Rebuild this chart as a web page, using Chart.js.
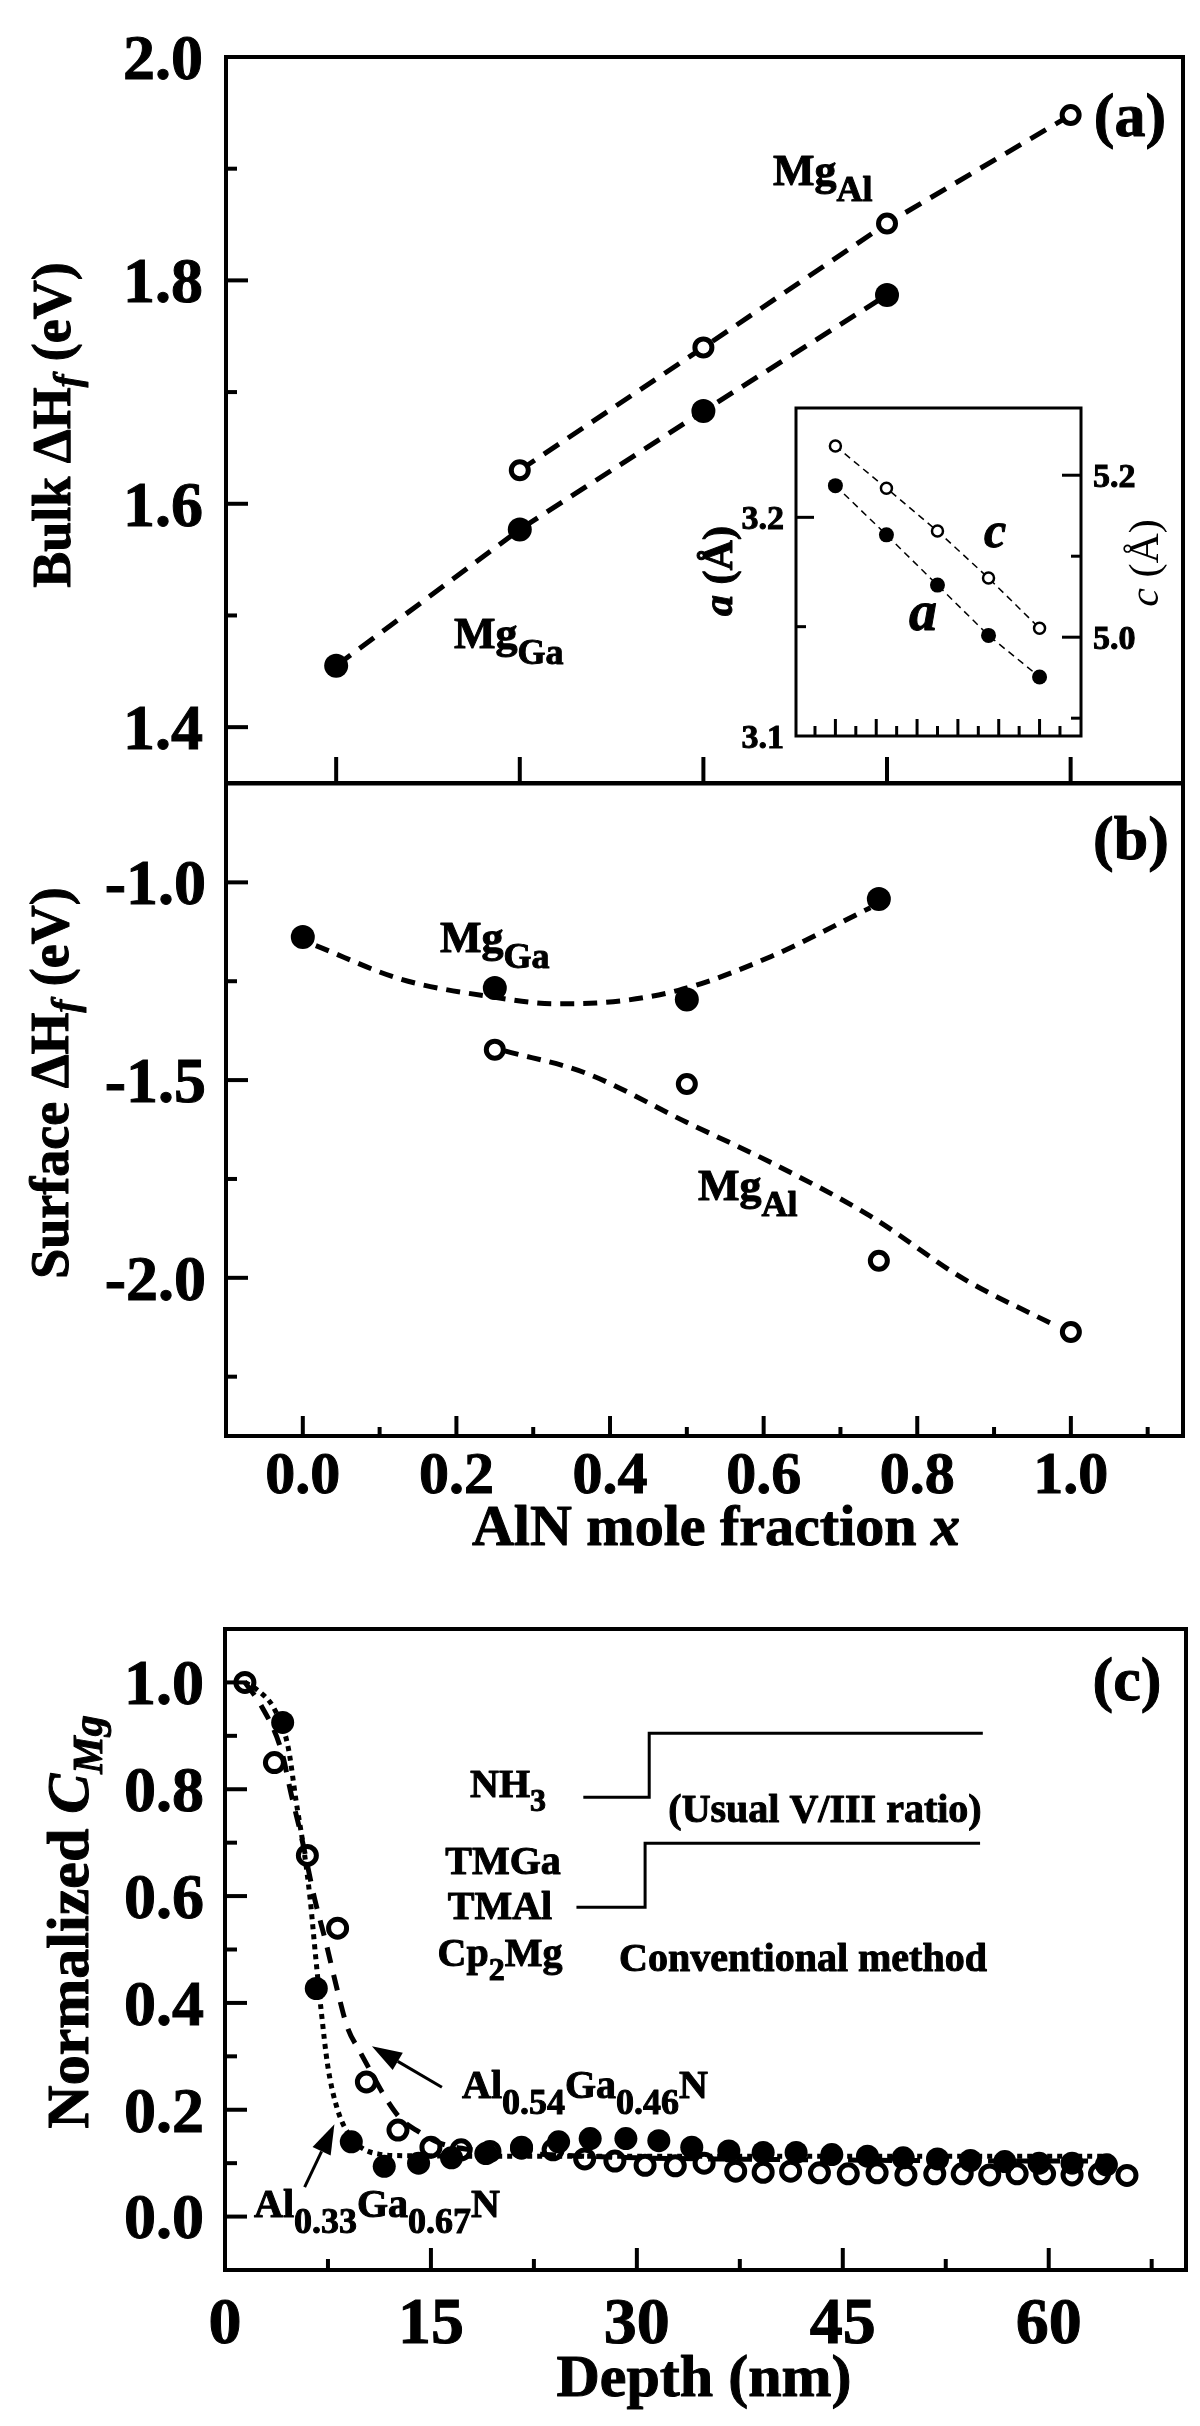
<!DOCTYPE html>
<html>
<head>
<meta charset="utf-8">
<script src="https://cdn.jsdelivr.net/npm/chart.js@4.4.0/dist/chart.umd.min.js"></script>
<style>
  body { margin: 0; background: #fff; }
  #wrap { position: relative; width: 1200px; height: 2426px; background: #fff; overflow: hidden; }
  canvas { position: absolute; }
</style>
</head>
<body>
<div id="wrap">
  <canvas id="chartA" width="1200" height="800" style="left:0;top:0"></canvas>
  <canvas id="chartB" width="1200" height="830" style="left:0;top:770px"></canvas>
  <canvas id="chartC" width="1200" height="826" style="left:0;top:1600px"></canvas>
  <canvas id="chartI" width="520" height="390" style="left:680px;top:390px"></canvas>
</div>
<script>
// ---- panel (a): bulk formation energy ----
const bulkXGa = [0, 0.25, 0.5, 0.75];
const bulkMgGa = [1.455, 1.577, 1.683, 1.787];
const bulkXAl = [0.25, 0.5, 0.75, 1.0];
const bulkMgAl = [1.630, 1.740, 1.851, 1.948];
const bulkYTicks = [1.4, 1.6, 1.8, 2.0];
const bulkYMinor = [1.5, 1.7, 1.9];
const bulkXTicks = [0, 0.25, 0.5, 0.75, 1.0];

// ---- inset: lattice constants ----
const insetX = [0, 0.25, 0.5, 0.75, 1.0];
const insetA = [3.2145, 3.192, 3.169, 3.146, 3.127];
const insetC = [5.236, 5.184, 5.131, 5.073, 5.011];

// ---- panel (b): surface formation energy ----
const surfXGa = [0, 0.25, 0.5, 0.75];
const surfMgGa = [-1.138, -1.267, -1.296, -1.042];
const surfXAl = [0.25, 0.5, 0.75, 1.0];
const surfMgAl = [-1.423, -1.51, -1.957, -2.137];
const fitGaX = [0.017, 0.128, 0.248, 0.328, 0.382, 0.489, 0.609, 0.739];
const fitGaY = [-1.160, -1.245, -1.290, -1.307, -1.305, -1.273, -1.188, -1.064];
const fitAlX = [0.263, 0.368, 0.499, 0.609, 0.739, 0.86, 0.98];
const fitAlY = [-1.426, -1.482, -1.606, -1.708, -1.844, -2.002, -2.121];
const fracTicks = [0, 0.2, 0.4, 0.6, 0.8, 1.0];
const fracMinor = [0.1, 0.3, 0.5, 0.7, 0.9, 1.1];
const surfYTicks = [-1.0, -1.5, -2.0];
const surfYMinor = [-1.25, -1.75, -2.25];

// ---- panel (c): Mg depth profiles ----
const depth054 = [1.45, 3.6, 6.0, 8.2, 10.3, 12.6, 15.0, 17.2, 19.3, 21.6, 23.9, 26.2, 28.4, 30.6, 32.8, 34.9,
  37.2, 39.2, 41.2, 43.3, 45.4, 47.5, 49.6, 51.7, 53.7, 55.7, 57.7, 59.7, 61.7, 63.7, 65.7];
const conc054 = [1.0, 0.85, 0.676, 0.54, 0.252, 0.162, 0.13, 0.125, 0.122, 0.13, 0.125, 0.108, 0.104, 0.096, 0.095, 0.1,
  0.085, 0.083, 0.085, 0.082, 0.08, 0.082, 0.078, 0.08, 0.08, 0.078, 0.08, 0.08, 0.078, 0.08, 0.077];
const depth033 = [4.2, 6.65, 9.2, 11.6, 14.1, 16.5, 19.0, 21.6, 24.3, 26.6, 29.2, 31.6, 34.0, 36.7, 39.2, 41.6,
  44.2, 46.8, 49.4, 51.9, 54.3, 56.8, 59.3, 61.7, 64.2];
const conc033 = [0.925, 0.427, 0.14, 0.094, 0.1, 0.11, 0.118, 0.128, 0.14, 0.146, 0.146, 0.142, 0.13, 0.123, 0.12, 0.12,
  0.116, 0.113, 0.11, 0.108, 0.105, 0.103, 0.1, 0.1, 0.097];
const fit033X = [1.45, 2.3, 3.62, 4.59, 5.19, 5.79, 6.2, 6.59, 7.0, 7.48, 8.2, 9.29, 11.2, 13.2, 20, 30, 40, 50, 60, 64.5];
const fit033Y = [1.0, 0.987, 0.949, 0.88, 0.776, 0.679, 0.595, 0.49, 0.387, 0.283, 0.2, 0.145, 0.117, 0.114, 0.113, 0.113, 0.113, 0.113, 0.113, 0.113];
const fit054X = [1.45, 2.65, 4.1, 4.83, 5.55, 6.52, 7.36, 8.2, 8.93, 9.78, 10.5, 11.7, 12.8, 14.1, 15.6, 18, 22, 30, 40, 50, 60, 64.5];
const fit054Y = [1.0, 0.956, 0.873, 0.79, 0.713, 0.596, 0.512, 0.422, 0.353, 0.311, 0.277, 0.222, 0.183, 0.159, 0.138, 0.125, 0.118, 0.11, 0.107, 0.105, 0.104, 0.104];
const nh3StepX = [26.1, 30.9, 30.9, 55.2];
const nh3StepY = [0.785, 0.785, 0.905, 0.905];
const tmgaStepX = [25.6, 30.6, 30.6, 55.0];
const tmgaStepY = [0.579, 0.579, 0.699, 0.699];
const depthTicks = [0, 15, 30, 45, 60];
const depthMinor = [7.5, 22.5, 37.5, 52.5, 67.5];
const concTicks = [0, 0.2, 0.4, 0.6, 0.8, 1.0];
const concMinor = [0.1, 0.3, 0.5, 0.7, 0.9];

const FONT = '"Liberation Serif", "Times New Roman", serif';
function f(size, style) { return (style || 'bold') + ' ' + size + 'px ' + FONT; }
const pts = (xs, ys) => xs.map((x, i) => ({ x: x, y: ys[i] }));

function markers(data, filled, r, bw, openFill) {
  return {
    data: data, showLine: false, pointRadius: r, pointHoverRadius: r,
    pointBackgroundColor: filled ? '#000' : (openFill || '#fff'),
    pointBorderColor: '#000', pointBorderWidth: filled ? 0 : bw, clip: false
  };
}
function curve(data, dash, width, smooth) {
  return {
    data: data, showLine: true, pointRadius: 0, pointHoverRadius: 0, borderColor: '#000',
    borderWidth: width, borderDash: dash, fill: false, clip: false,
    cubicInterpolationMode: smooth ? 'monotone' : 'default', tension: 0
  };
}
function baseOptions(pad, xr, yr, extra) {
  const scales = {
    x: { type: 'linear', min: xr[0], max: xr[1], display: false },
    y: { type: 'linear', min: yr[0], max: yr[1], display: false }
  };
  Object.assign(scales, extra || {});
  return {
    responsive: false, animation: false, devicePixelRatio: 1, events: [],
    layout: { padding: pad },
    plugins: { legend: { display: false }, tooltip: { enabled: false } },
    scales: scales
  };
}

// text with sub-parts; x,y in page pixels
function drawRich(ctx, parts, x, y, align, rot) {
  ctx.save();
  ctx.translate(x, y);
  if (rot) ctx.rotate(rot);
  ctx.textBaseline = 'alphabetic';
  ctx.textAlign = 'left';
  ctx.lineWidth = 1;
  ctx.lineJoin = 'round';
  let w = 0;
  parts.forEach(p => { ctx.font = p.font; w += ctx.measureText(p.t).width; });
  let cx = align === 'center' ? -w / 2 : (align === 'right' ? -w : 0);
  parts.forEach(p => {
    ctx.font = p.font;
    ctx.fillText(p.t, cx, p.dy || 0);
    if (p.font.indexOf('bold') === 0) ctx.strokeText(p.t, cx, p.dy || 0);
    cx += ctx.measureText(p.t).width;
  });
  ctx.restore();
}

function panelPlugin(cfg) {
  return {
    id: 'panel',
    afterDraw(chart) {
      const ctx = chart.ctx, a = chart.chartArea;
      ctx.save();
      ctx.strokeStyle = '#000';
      ctx.fillStyle = '#000';
      ctx.setLineDash([]);
      ctx.lineWidth = cfg.frame;
      ctx.strokeRect(a.left, a.top, a.right - a.left, a.bottom - a.top);
      ctx.lineWidth = cfg.tickWidth;
      cfg.ticks.forEach(t => {
        const s = chart.scales[t.scale];
        t.values.forEach(v => {
          const p = s.getPixelForValue(v);
          ctx.beginPath();
          if (t.side === 'bottom') { ctx.moveTo(p, a.bottom); ctx.lineTo(p, a.bottom - t.len); }
          else if (t.side === 'left') { ctx.moveTo(a.left, p); ctx.lineTo(a.left + t.len, p); }
          else { ctx.moveTo(a.right, p); ctx.lineTo(a.right - t.len, p); }
          ctx.stroke();
        });
      });
      (cfg.arrows || []).forEach(ar => {
        const x1 = chart.scales.x.getPixelForValue(ar.from[0]);
        const y1 = chart.scales.y.getPixelForValue(ar.from[1]);
        const x2 = chart.scales.x.getPixelForValue(ar.to[0]);
        const y2 = chart.scales.y.getPixelForValue(ar.to[1]);
        const ang = Math.atan2(y2 - y1, x2 - x1);
        const hl = 30, hw = 10;
        const bx = x2 - hl * Math.cos(ang), by = y2 - hl * Math.sin(ang);
        ctx.lineWidth = 3;
        ctx.beginPath(); ctx.moveTo(x1, y1); ctx.lineTo(bx, by); ctx.stroke();
        ctx.beginPath();
        ctx.moveTo(x2, y2);
        ctx.lineTo(bx + hw * Math.sin(ang), by - hw * Math.cos(ang));
        ctx.lineTo(bx - hw * Math.sin(ang), by + hw * Math.cos(ang));
        ctx.closePath(); ctx.fill();
      });
      ctx.translate(-cfg.ox, -cfg.oy);
      (cfg.tickLabels || []).forEach(tl => {
        const s = chart.scales[tl.scale];
        ctx.font = tl.font;
        ctx.textBaseline = 'alphabetic';
        ctx.lineWidth = 1;
        tl.values.forEach(v => {
          const txt = tl.fmt(v);
          let tx, ty;
          if (tl.side === 'bottom') {
            ctx.textAlign = 'center';
            tx = s.getPixelForValue(v) + cfg.ox; ty = tl.pos;
          } else {
            ctx.textAlign = tl.side === 'left' ? 'right' : 'left';
            tx = tl.pos; ty = s.getPixelForValue(v) + cfg.oy + tl.size * 0.34;
          }
          ctx.fillText(txt, tx, ty);
          ctx.strokeText(txt, tx, ty);
        });
      });
      (cfg.texts || []).forEach(t => drawRich(ctx, t.parts, t.x, t.y, t.align, t.rot));
      ctx.restore();
    }
  };
}

const one = v => v.toFixed(1);
const ROT = -Math.PI / 2;
const sub = (t, size, dy, style) => ({ t: t, font: f(size, style), dy: dy });

// ---------- panel (a) ----------
new Chart(document.getElementById('chartA'), {
  type: 'scatter',
  data: {
    datasets: [
      markers(pts(bulkXGa, bulkMgGa), true, 12),
      markers(pts(bulkXAl, bulkMgAl), false, 8.5, 5),
      curve(pts(bulkXGa, bulkMgGa), [18, 11], 5, false),
      curve(pts(bulkXAl, bulkMgAl), [18, 11], 5, false)
    ]
  },
  options: baseOptions({ left: 226, right: 17, top: 57, bottom: 17 }, [-0.15, 1.153], [1.35, 2.0]),
  plugins: [panelPlugin({
    ox: 0, oy: 0, frame: 4, tickWidth: 4,
    ticks: [
      { scale: 'y', side: 'left', values: bulkYTicks, len: 22 },
      { scale: 'y', side: 'left', values: bulkYMinor, len: 11 },
      { scale: 'x', side: 'bottom', values: bulkXTicks, len: 26 }
    ],
    tickLabels: [{ scale: 'y', side: 'left', values: bulkYTicks, fmt: one, font: f(64), size: 64, pos: 203 }],
    texts: [
      { parts: [sub('Bulk ΔH', 54), sub('f', 38, 10, 'bold italic'), sub(' (eV)', 54)], x: 70, y: 425, align: 'center', rot: ROT },
      { parts: [sub('(a)', 62)], x: 1130, y: 136, align: 'center' },
      { parts: [sub('Mg', 44), sub('Al', 36, 16)], x: 773, y: 185, align: 'left' },
      { parts: [sub('Mg', 44), sub('Ga', 36, 16)], x: 454, y: 648, align: 'left' }
    ]
  })]
});

// ---------- inset ----------
new Chart(document.getElementById('chartI'), {
  type: 'scatter',
  data: {
    datasets: [
      Object.assign(markers(pts(insetX, insetA), true, 7.5), { yAxisID: 'y' }),
      Object.assign(markers(pts(insetX, insetC), false, 5.5, 2.5), { yAxisID: 'y2' }),
      Object.assign(curve(pts(insetX, insetA), [7, 5], 1.5, false), { yAxisID: 'y' }),
      Object.assign(curve(pts(insetX, insetC), [7, 5], 1.5, false), { yAxisID: 'y2' })
    ]
  },
  options: baseOptions({ left: 116, right: 119, top: 18, bottom: 44 }, [-0.193, 1.203], [3.1, 3.25],
    { y2: { type: 'linear', position: 'right', min: 4.878, max: 5.283, display: false } }),
  plugins: [panelPlugin({
    ox: 680, oy: 390, frame: 3, tickWidth: 3,
    ticks: [
      { scale: 'x', side: 'bottom', values: fracTicks, len: 17 },
      { scale: 'x', side: 'bottom', values: [-0.1].concat(fracMinor), len: 10 },
      { scale: 'y', side: 'left', values: [3.2], len: 18 },
      { scale: 'y', side: 'left', values: [3.15], len: 10 },
      { scale: 'y2', side: 'right', values: [5.2, 5.0], len: 19 },
      { scale: 'y2', side: 'right', values: [5.1, 4.9], len: 10 }
    ],
    tickLabels: [
      { scale: 'y', side: 'left', values: [3.1, 3.2], fmt: one, font: f(34), size: 34, pos: 784 },
      { scale: 'y2', side: 'right', values: [5.0, 5.2], fmt: one, font: f(34), size: 34, pos: 1093 }
    ],
    texts: [
      { parts: [sub('a', 42, 0, 'bold italic'), sub(' (Å)', 42)], x: 732, y: 571, align: 'center', rot: ROT },
      { parts: [sub('c', 42, 0, 'italic'), sub(' (Å)', 42, 0, 'normal')], x: 1158, y: 563, align: 'center', rot: ROT },
      { parts: [sub('c', 50, 0, 'bold italic')], x: 995, y: 547, align: 'center' },
      { parts: [sub('a', 56, 0, 'bold italic')], x: 923, y: 630, align: 'center' }
    ]
  })]
});

// ---------- panel (b) ----------
new Chart(document.getElementById('chartB'), {
  type: 'scatter',
  data: {
    datasets: [
      markers(pts(surfXGa, surfMgGa), true, 12),
      markers(pts(surfXAl, surfMgAl), false, 8.5, 5),
      curve(pts(fitGaX, fitGaY), [14, 9], 5, true),
      curve(pts(fitAlX, fitAlY), [14, 9], 5, true)
    ]
  },
  options: baseOptions({ left: 226, right: 17, top: 13, bottom: 164 }, [-0.1, 1.146], [-2.4, -0.75]),
  plugins: [panelPlugin({
    ox: 0, oy: 770, frame: 4, tickWidth: 4,
    ticks: [
      { scale: 'y', side: 'left', values: surfYTicks, len: 22 },
      { scale: 'y', side: 'left', values: surfYMinor, len: 11 },
      { scale: 'x', side: 'bottom', values: fracTicks, len: 20 },
      { scale: 'x', side: 'bottom', values: fracMinor, len: 9 }
    ],
    tickLabels: [
      { scale: 'y', side: 'left', values: surfYTicks, fmt: one, font: f(64), size: 64, pos: 206 },
      { scale: 'x', side: 'bottom', values: fracTicks, fmt: one, font: f(60), size: 60, pos: 1493 }
    ],
    texts: [
      { parts: [sub('Surface ΔH', 54), sub('f', 38, 10, 'bold italic'), sub(' (eV)', 54)], x: 68, y: 1083, align: 'center', rot: ROT },
      { parts: [sub('(b)', 62)], x: 1131, y: 859, align: 'center' },
      { parts: [sub('Mg', 44), sub('Ga', 36, 16)], x: 440, y: 952, align: 'left' },
      { parts: [sub('Mg', 44), sub('Al', 36, 16)], x: 698, y: 1200, align: 'left' },
      { parts: [sub('AlN mole fraction ', 58), sub('x', 58, 0, 'bold italic')], x: 716, y: 1545, align: 'center' }
    ]
  })]
});

// ---------- panel (c) ----------
new Chart(document.getElementById('chartC'), {
  type: 'scatter',
  data: {
    datasets: [
      markers(pts(depth054, conc054), false, 9, 5, 'rgba(255,255,255,0)'),
      markers(pts(depth033, conc033), true, 11.5),
      curve(pts(fit054X, fit054Y), [16, 12], 5, true),
      curve(pts(fit033X, fit033Y), [5, 5], 5, true),
      curve(pts(nh3StepX, nh3StepY), [], 3, false),
      curve(pts(tmgaStepX, tmgaStepY), [], 3, false)
    ]
  },
  options: baseOptions({ left: 225, right: 10, top: 29, bottom: 156 }, [0, 70], [-0.1, 1.1]),
  plugins: [panelPlugin({
    ox: 0, oy: 1600, frame: 4, tickWidth: 4,
    ticks: [
      { scale: 'y', side: 'left', values: concTicks, len: 22 },
      { scale: 'y', side: 'left', values: concMinor, len: 12 },
      { scale: 'x', side: 'bottom', values: depthTicks, len: 22 },
      { scale: 'x', side: 'bottom', values: depthMinor, len: 11 }
    ],
    arrows: [
      { from: [15.8, 0.242], to: [10.7, 0.319] },
      { from: [5.8, 0.055], to: [7.97, 0.173] }
    ],
    tickLabels: [
      { scale: 'y', side: 'left', values: concTicks, fmt: one, font: f(64), size: 64, pos: 204 },
      { scale: 'x', side: 'bottom', values: depthTicks, fmt: v => String(v), font: f(66), size: 66, pos: 2343 }
    ],
    texts: [
      { parts: [sub('Normalized ', 60), sub('C', 60, 0, 'bold italic'), sub('Mg', 42, 14, 'bold italic')], x: 88, y: 1922, align: 'center', rot: ROT },
      { parts: [sub('Depth (nm)', 60)], x: 704, y: 2396, align: 'center' },
      { parts: [sub('(c)', 62)], x: 1127, y: 1700, align: 'center' },
      { parts: [sub('NH', 40), sub('3', 32, 14)], x: 470, y: 1797, align: 'left' },
      { parts: [sub('(Usual V/III ratio)', 40)], x: 825, y: 1822, align: 'center' },
      { parts: [sub('TMGa', 40)], x: 503, y: 1874, align: 'center' },
      { parts: [sub('TMAl', 40)], x: 500, y: 1919, align: 'center' },
      { parts: [sub('Cp', 40), sub('2', 32, 14), sub('Mg', 40)], x: 500, y: 1966, align: 'center' },
      { parts: [sub('Conventional method', 40)], x: 803, y: 1971, align: 'center' },
      { parts: [sub('Al', 40), sub('0.54', 36, 16), sub('Ga', 40), sub('0.46', 36, 16), sub('N', 40)], x: 462, y: 2098, align: 'left' },
      { parts: [sub('Al', 40), sub('0.33', 36, 16), sub('Ga', 40), sub('0.67', 36, 16), sub('N', 40)], x: 254, y: 2217, align: 'left' }
    ]
  })]
});
</script>
</body>
</html>
